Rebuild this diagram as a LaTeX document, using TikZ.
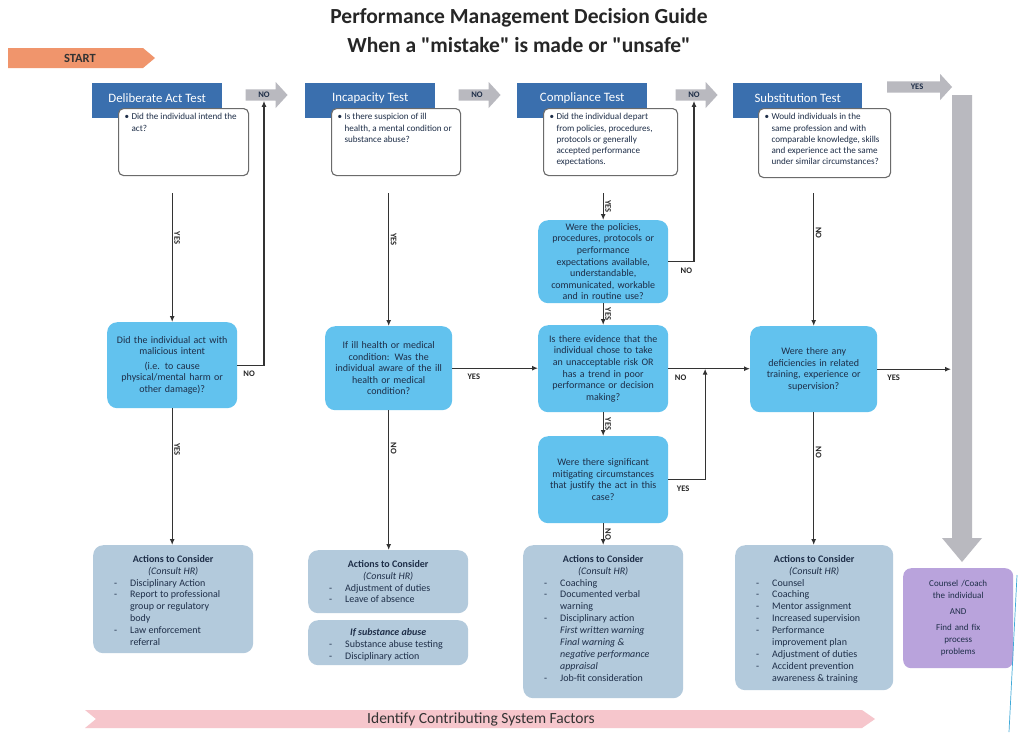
\documentclass[tikz,border=0pt]{standalone}
\usepackage{fontspec}
\setmainfont{Carlito}
\usetikzlibrary{shapes.arrows,calc,arrows.meta}
\definecolor{hblue}{HTML}{3A6FAE}
\definecolor{dblue}{HTML}{62C2EE}
\definecolor{ablue}{HTML}{B3CADC}
\definecolor{pbox}{HTML}{B9A3DC}
\definecolor{garr}{HTML}{B9B9BF}
\definecolor{orng}{HTML}{F0956C}
\definecolor{pinkb}{HTML}{F6C6CC}
\definecolor{ink}{HTML}{1E2E48}
\definecolor{cborder}{HTML}{6B6B6B}
\definecolor{cyanl}{HTML}{3FA9D8}
\newcommand\bli[1]{\par\noindent\hangindent=25pt\hangafter=1\makebox[25pt][l]{\hspace{9pt}-}#1}
\newcommand\bln[1]{\par\noindent\hangindent=25pt\hangafter=1\hspace*{25pt}#1}
\newcommand\cbul[1]{\noindent\hangindent=7pt\hangafter=1\makebox[7pt][l]{•}#1}
\newcommand\acthead{\vspace*{4pt}{\centering\textbf{Actions to Consider}\par\textit{(Consult HR)}\par}\raggedright}
\begin{document}
\begin{tikzpicture}[x=1pt,y=-1pt,
 title/.style={font=\fontsize{21.5}{24}\bfseries\selectfont, text=black!85, inner sep=0},
 hdr/.style={fill=hblue, minimum width=130, minimum height=35, anchor=north west, inner sep=0},
 hdrtext/.style={text=white, font=\fontsize{12.8}{14}\selectfont, inner sep=0},
 callout/.style={draw=cborder, line width=1.1, fill=white, rounded corners=5, anchor=north west, inner xsep=6, inner ysep=5, font=\fontsize{9.1}{11.2}\selectfont, text=ink},
 dec/.style={fill=dblue, rounded corners=10, minimum width=130, minimum height=86, text width=126, align=center, font=\fontsize{10}{11.6}\selectfont, text=ink, anchor=north west, inner sep=0},
 act/.style={fill=ablue, rounded corners=10, anchor=north west, inner xsep=12, inner ysep=6, font=\fontsize{10}{11.9}\selectfont, text=ink},
 garrow/.style={single arrow, fill=garr, single arrow head extend=4, single arrow tip angle=95, minimum width=26, minimum height=42, inner sep=0, font=\fontsize{8.5}{9}\bfseries\selectfont, text=ink},
 arr/.style={-{Latex[length=6,width=5]}, line width=1.2, draw=black!80},
 lbl/.style={font=\fontsize{8.5}{9}\bfseries\selectfont, text=black!85, inner sep=1.5},
 vlbl/.style={lbl, anchor=south, rotate=-90},
]
\useasboundingbox (0,0) rectangle (1019,732);
\fill[white] (0,0) rectangle (1019,732);

% title
\node[title] (t1) at (519,18) {Performance Management Decision Guide};
\node[title] (t2) at (519,45) {When a \textquotedbl mistake\textquotedbl\ is made or \textquotedbl unsafe\textquotedbl};

% start
\fill[orng] (8,48) -- (143,48) -- (155,58) -- (143,68) -- (8,68) -- cycle;
\node[font=\fontsize{12.5}{14}\bfseries\selectfont, text=black!80, inner sep=0] (start) at (80,58) {START};

% headers
\node[hdr] (h1) at (92,83) {};
\node[hdr] (h2) at (305,83) {};
\node[hdr] (h3) at (517,83) {};
\node[hdr, minimum width=129] (h4) at (733,83) {};
\node[hdrtext] (h1t) at ($(h1.north)+(0,15)$) {Deliberate Act Test};
\node[hdrtext] (h2t) at ($(h2.north)+(0,15)$) {Incapacity Test};
\node[hdrtext] (h3t) at ($(h3.north)+(0,15)$) {Compliance Test};
\node[hdrtext] (h4t) at ($(h4.north)+(0,15)$) {Substitution Test};

% callouts
\node[callout] (c1) at (118,108) {\parbox[c][57pt][t]{118pt}{\cbul{Did the individual intend the\newline act?}}};
\node[callout] (c2) at (331,108) {\parbox[c][57pt][t]{117pt}{\cbul{Is there suspicion of ill\newline health, a mental condition or\newline substance abuse?}}};
\node[callout] (c3) at (543,108) {\parbox[c][57pt][t]{122pt}{\cbul{Did the individual depart\newline from policies, procedures,\newline protocols or generally\newline accepted performance\newline expectations.}}};
\node[callout] (c4) at (758,108) {\parbox[c][59pt][t]{120pt}{\cbul{Would individuals in the\newline same profession and with\newline comparable knowledge, skills\newline and experience act the same\newline under similar circumstances?}}};

% gray arrows
\node[garrow] (no1) at (264,95) {NO};
\node[garrow] (no2) at (477,95) {NO};
\node[garrow] (no3) at (694,95) {NO};
\node[garrow, minimum height=65, minimum width=26] (yes1) at (917,87) {YES};

% big vertical arrow
\fill[garr] (952,95) -- (972,95) -- (972,538) -- (982,538) -- (962,562) -- (942,538) -- (952,538) -- cycle;
\coordinate (bigA) at (951,95);

% decisions
\node[dec] (d1) at (107,322) {Did the individual act with\\ malicious intent\\[3pt] (i.e. to cause\\ physical/mental harm or\\ other damage)?};
\node[dec, minimum width=127, minimum height=84] (d2) at (325,326) {If ill health or medical\\ condition: Was the\\ individual aware of the ill\\ health or medical\\ condition?};
\node[dec, minimum height=83] (dA) at (538,220) {Were the policies,\\ procedures, protocols or\\ performance\\ expectations available,\\ understandable,\\ communicated, workable\\ and in routine use?};
\node[dec, minimum height=87] (dB) at (538,325) {Is there evidence that the\\ individual chose to take\\ an unacceptable risk OR\\ has a trend in poor\\ performance or decision\\ making?};
\node[dec, minimum height=87] (dC) at (538,436) {Were there significant\\ mitigating circumstances\\ that justify the act in this\\ case?};
\node[dec, minimum width=127, minimum height=86] (d4) at (750,326) {Were there any\\ deficiencies in related\\ training, experience or\\ supervision?};

% action boxes
\node[act] (a1) at (93,545) {\parbox[c][96pt][t]{136pt}{\acthead\bli{Disciplinary Action}\bli{Report to professional\newline group or regulatory\newline body}\bli{Law enforcement\newline referral}}};
\node[act] (a2) at (308,550) {\parbox[c][51pt][t]{136pt}{\acthead\bli{Adjustment of duties}\bli{Leave of absence}}};
\node[act] (a2b) at (308,620) {\parbox[c][33pt][t]{136pt}{\vspace*{2pt}{\centering\textbf{\textit{If substance abuse}}\par}\raggedright\bli{Substance abuse testing}\bli{Disciplinary action}}};
\node[act] (a3) at (523,545) {\parbox[c][141pt][t]{136pt}{\acthead\bli{Coaching}\bli{Documented verbal\newline warning}\bli{Disciplinary action}\bln{\textit{First written warning}}\bln{\textit{Final warning \&\newline negative performance\newline appraisal}}\bli{Job-fit consideration}}};
\node[act] (a4) at (735,545) {\parbox[c][133pt][t]{134pt}{\acthead\bli{Counsel}\bli{Coaching}\bli{Mentor assignment}\bli{Increased supervision}\bli{Performance\newline improvement plan}\bli{Adjustment of duties}\bli{Accident prevention\newline awareness \& training}}};

% purple box
\node[fill=pbox, rounded corners=8, anchor=north west, minimum width=110, minimum height=100, text width=100, align=center, inner sep=0, font=\fontsize{9}{12}\selectfont, text=ink] (pb) at (903,568) {Counsel /Coach\\ the individual\\[4pt] AND\\[4pt] Find and fix\\ process\\ problems};

% connectors column 1
\draw[arr] ($(c1.south -| d1.north)+(0,17)$) -- node[vlbl, pos=.35] (l1) {YES} (d1.north);
\draw[arr] (d1.east) -| node[lbl, pos=.22, below=4] (l2) {NO} (no1.south);
\draw[arr] (d1.south) -- node[vlbl, pos=.3] (l3) {YES} (a1.north -| d1.south);

% column 2
\draw[arr] ($(c2.south -| d2.north)+(0,17)$) -- node[vlbl, pos=.35] (l4) {YES} (d2.north);
\draw[arr] (d2.east) -- node[lbl, pos=.25, below=4] (l5) {YES} (d2.east -| dB.west);
\draw[arr] (d2.south) -- node[vlbl, pos=.27] (l6) {NO} (a2.north -| d2.south);

% column 3
\draw[arr] ($(c3.south -| dA.north)+(0,17)$) -- node[vlbl, pos=.5] (l7) {YES} (dA.north);
\draw[arr] (dA.east) -| node[lbl, pos=.35, below=4] (l8) {NO} (no3.south);
\draw[arr] (dA.south) -- node[vlbl, pos=.5] (l9) {YES} (dB.north);
\coordinate (jn) at ($(dB.east)!0.45!(dB.east -| d4.west)$);
\draw[arr] (dB.east) -- node[lbl, pos=.15, below=4] (l10) {NO} (dB.east -| d4.west);
\draw[arr] (dB.south) -- node[vlbl, pos=.5] (l11) {YES} (dC.north);
\draw[arr] (dC.east) -| node[lbl, pos=.2, below=4] (l12) {YES} (jn);
\draw[arr] (dC.south) -- node[vlbl, pos=.5] (l13) {NO} (a3.north -| dC.south);

% column 4
\draw[arr] ($(c4.south -| d4.north)+(0,15)$) -- node[vlbl, pos=.3] (l14) {NO} (d4.north);
\draw[arr] (d4.east) -- node[lbl, pos=.22, below=4] (l15) {YES} (d4.east -| bigA);
\draw[arr] (d4.south) -- node[vlbl, pos=.3] (l16) {NO} (a4.north -| d4.south);

% bottom banner
\fill[pinkb] (85,710) -- (862,710) -- (875,719) -- (862,728) -- (85,728) -- (96,719) -- cycle;
\node[font=\fontsize{15.5}{17}\selectfont, text=black!80, inner sep=0] (ban) at (481,719) {Identify Contributing System Factors};

% thin edge line
\draw[cyanl, line width=0.7] (1017,575) -- (1009,732);
\end{tikzpicture}
\end{document}
